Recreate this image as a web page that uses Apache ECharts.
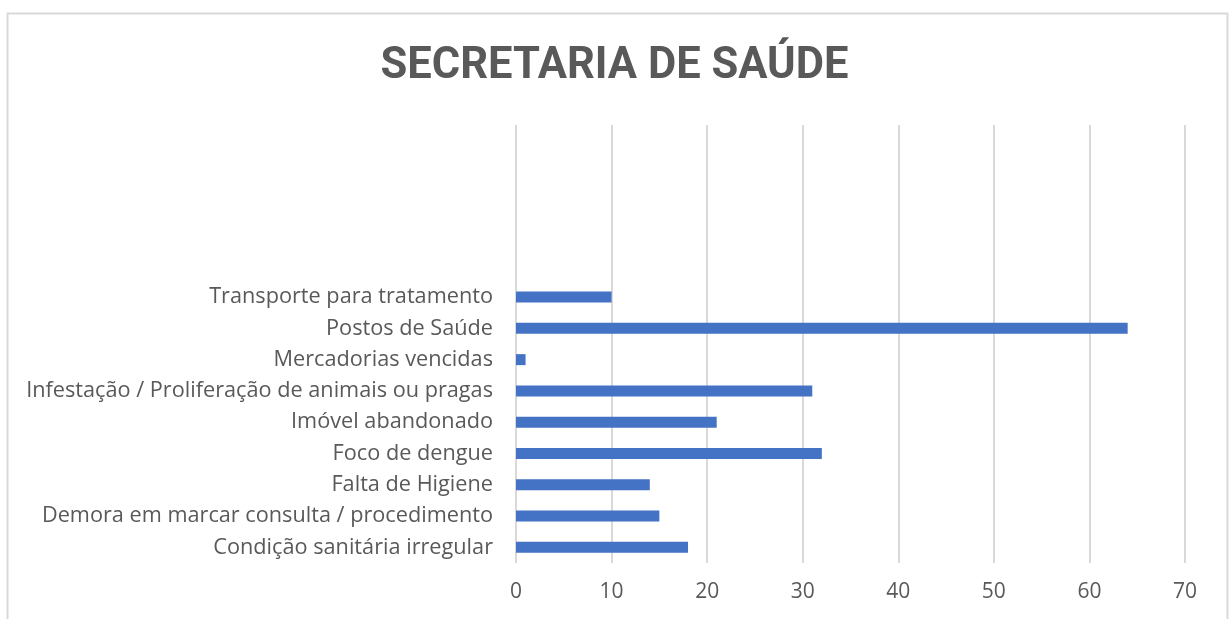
<!DOCTYPE html>
<html>
<head>
<meta charset="utf-8">
<script src="https://cdn.jsdelivr.net/npm/echarts@6/dist/echarts.min.js"></script>
<style>html,body{margin:0;padding:0;background:#fff;}#c{width:1229px;height:619px;}</style>
</head>
<body>
<div id="c"></div>
<script>
const title = 'SECRETARIA DE SAÚDE';
const categories = [
  'Condição sanitária irregular',
  'Demora em marcar consulta / procedimento',
  'Falta de Higiene',
  'Foco de dengue',
  'Imóvel abandonado',
  'Infestação / Proliferação de animais ou pragas',
  'Mercadorias vencidas',
  'Postos de Saúde',
  'Transporte para tratamento',
  '', '', '', '', ''
];
const values = [18, 15, 14, 32, 21, 31, 1, 64, 10, null, null, null, null, null];
const xTicks = [0, 10, 20, 30, 40, 50, 60, 70];

const chart = echarts.init(document.getElementById('c'));
chart.setOption({
  backgroundColor: '#fff',
  animation: false,
  graphic: [{
    type: 'rect', left: 5, top: 11,
    shape: { width: 1220, height: 640 },
    style: { fill: 'none', stroke: '#d9d9d9', lineWidth: 2 }
  }],
  title: {
    text: title, left: 'center', top: 40,
    textStyle: { fontFamily: 'Roboto, sans-serif', fontWeight: 'bold', fontSize: 43.5, color: '#595959' }
  },
  grid: { left: 516, right: 44, top: 125, bottom: 56 },
  xAxis: {
    type: 'value', min: xTicks[0], max: xTicks[xTicks.length - 1], interval: 10,
    axisLine: { show: false }, axisTick: { show: false },
    axisLabel: { margin: 19, fontSize: 21, color: '#595959', fontFamily: 'Open Sans, sans-serif' },
    splitLine: { lineStyle: { color: '#d9d9d9', width: 2 } }
  },
  yAxis: {
    type: 'category', data: categories,
    axisLine: { show: false }, axisTick: { show: false },
    axisLabel: { margin: 23, fontSize: 21.7, color: '#595959', fontFamily: 'Open Sans, sans-serif', interval: 0 }
  },
  series: [{
    type: 'bar', data: values, barWidth: 11,
    itemStyle: { color: '#4472C4' }
  }]
});
</script>
</body>
</html>
